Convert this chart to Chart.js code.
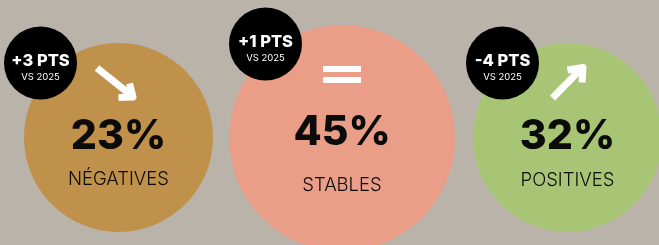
<!DOCTYPE html>
<html>
<head>
<meta charset="utf-8">
<script src="https://cdn.jsdelivr.net/npm/chart.js@4"></script>
<style>
  html, body { margin: 0; padding: 0; background: #b9b3aa; }
  #wrap { width: 659px; height: 245px; }
</style>
</head>
<body>
<div id="wrap"><canvas id="chart" width="659" height="245"></canvas></div>
<script>
// data
var labels = ['NÉGATIVES', 'STABLES', 'POSITIVES'];
var shares = [23, 45, 32];          // % of answers
var changes = [3, 1, -4];           // pts vs 2025
var trends = ['down', 'flat', 'up'];
var refYear = '2025';

// layout (pixel units, the scales run 0..659 / 0..245)
var centers = [[118.5, 137.5], [342, 138], [567.5, 137.5]];
var radii = [94.5, 113, 94.5];
var badges = [[40.5, 63], [265.5, 44], [502.5, 63]];
var badgeR = 36.5;
var textOffsets = [[-1, 42], [-5.5, 47], [-1, 42.5]];
var colors = ['#bf914a', '#eb9e87', '#a8c576'];

function fmtChange(v) { return (v > 0 ? '+' : v < 0 ? '-' : '') + Math.abs(v) + ' PTS'; }

var labelPlugin = {
  id: 'labels',
  afterDatasetsDraw: function(chart) {
    var ctx = chart.ctx;
    var big = chart.getDatasetMeta(0).data;
    var small = chart.getDatasetMeta(1).data;
    ctx.save();
    ctx.textAlign = 'center';
    ctx.textBaseline = 'middle';

    big.forEach(function(el, i) {
      var off = textOffsets[i];
      ctx.fillStyle = '#0b0b0b';
      ctx.font = '800 41px Inter';
      ctx.fillText(shares[i] + '%', el.x, el.y + off[0]);
      ctx.font = '300 18.5px Inter';
      ctx.fillText(labels[i], el.x, el.y + off[1]);

      // trend marks
      ctx.strokeStyle = '#fff';
      ctx.fillStyle = '#fff';
      ctx.lineWidth = 7;
      ctx.lineCap = 'butt';
      ctx.lineJoin = 'round';
      if (trends[i] === 'down') {
        ctx.beginPath();
        ctx.moveTo(el.x - 21.5, el.y - 69.5);
        ctx.lineTo(el.x + 13, el.y - 42);
        ctx.stroke();
        ctx.beginPath();
        ctx.moveTo(el.x + 11, el.y - 54);
        ctx.lineTo(el.x + 14.5, el.y - 40.5);
        ctx.lineTo(el.x + 0, el.y - 40);
        ctx.stroke();
      } else if (trends[i] === 'up') {
        ctx.beginPath();
        ctx.moveTo(el.x - 15, el.y - 39.5);
        ctx.lineTo(el.x + 14, el.y - 69);
        ctx.stroke();
        ctx.beginPath();
        ctx.moveTo(el.x + 0, el.y - 67.5);
        ctx.lineTo(el.x + 15.5, el.y - 70);
        ctx.lineTo(el.x + 14.5, el.y - 55);
        ctx.stroke();
      } else {
        ctx.fillRect(el.x - 19, el.y - 72, 38, 6);
        ctx.fillRect(el.x - 19, el.y - 61, 38, 6);
      }
    });

    small.forEach(function(el, i) {
      ctx.fillStyle = '#fff';
      ctx.font = '800 16.5px Inter';
      ctx.fillText(fmtChange(changes[i]), el.x, el.y - 1.5);
      ctx.font = '400 9.5px Inter';
      ctx.fillText('VS ' + refYear, el.x, el.y + 14.5);
    });
    ctx.restore();
  }
};

new Chart(document.getElementById('chart'), {
  type: 'bubble',
  data: {
    datasets: [
      {
        data: shares.map(function(s, i) { return { x: centers[i][0], y: centers[i][1], r: radii[i], v: s }; }),
        backgroundColor: colors, borderWidth: 0, hoverRadius: 0, clip: false, order: 1
      },
      {
        data: changes.map(function(c, i) { return { x: badges[i][0], y: badges[i][1], r: badgeR, v: c }; }),
        backgroundColor: '#000', borderWidth: 0, hoverRadius: 0, clip: false, order: 0
      }
    ]
  },
  options: {
    responsive: false, animation: false, events: [],
    layout: { padding: 0, autoPadding: false },
    plugins: { legend: { display: false }, tooltip: { enabled: false } },
    scales: {
      x: { type: 'linear', min: 0, max: 659, display: false },
      y: { type: 'linear', min: 0, max: 245, reverse: true, display: false }
    }
  },
  plugins: [labelPlugin]
});
</script>
</body>
</html>
